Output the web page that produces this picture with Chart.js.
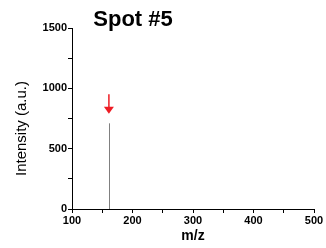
<!DOCTYPE html>
<html>
<head>
<meta charset="utf-8">
<script src="https://cdn.jsdelivr.net/npm/chart.js@4/dist/chart.umd.min.js"></script>
<style>
  html, body { margin: 0; padding: 0; background: #fff; }
  #wrap { width: 326px; height: 248px; position: relative; }
</style>
</head>
<body>
<div id="wrap"><canvas id="c"></canvas></div>
<script>
// --- data ---
const peakMz = [162];
const peakIntensity = [710];
const arrowMz = [161];
const arrowFrom = [950];
const arrowTo = [790];
const xTicks = [100, 200, 300, 400, 500];
const yTicks = [0, 500, 1000, 1500];
const chartTitle = 'Spot #5';
const yTitle = 'Intensity (a.u.)';

const font = 'Liberation Sans, Arial, sans-serif';

const spikePoints = [];
peakMz.forEach((m, i) => {
    spikePoints.push({ x: m, y: 0 }, { x: m, y: peakIntensity[i] }, { x: null, y: null });
});

// red arrow, title and y label, drawn relative to the scales
const extras = {
    id: 'extras',
    afterDatasetsDraw(chart) {
        const { ctx, scales: { x, y }, chartArea } = chart;
        ctx.save();
        arrowMz.forEach((m, i) => {
            const px = x.getPixelForValue(m);
            const y0 = y.getPixelForValue(arrowFrom[i]);
            const y1 = y.getPixelForValue(arrowTo[i]);
            ctx.strokeStyle = '#ee1c24';
            ctx.fillStyle = '#ee1c24';
            ctx.lineWidth = 1.5;
            ctx.beginPath();
            ctx.moveTo(px, y0);
            ctx.lineTo(px, y1 - 6);
            ctx.stroke();
            ctx.beginPath();
            ctx.moveTo(px - 5, y1 - 7);
            ctx.lineTo(px + 5, y1 - 7);
            ctx.lineTo(px, y1);
            ctx.closePath();
            ctx.fill();
        });
        ctx.fillStyle = '#000';
        ctx.font = 'bold 22px ' + font;
        ctx.textAlign = 'center';
        ctx.textBaseline = 'middle';
        ctx.fillText(chartTitle, chartArea.left + 61, 20);

        ctx.translate(22, (chartArea.top + chartArea.bottom) / 2 + 10);
        ctx.rotate(-Math.PI / 2);
        ctx.font = '15px ' + font;
        ctx.fillText(yTitle, 0, 0);
        ctx.restore();
    }
};

new Chart(document.getElementById('c').getContext('2d'), {
    type: 'line',
    data: {
        datasets: [{
            data: spikePoints,
            borderColor: '#808080',
            borderWidth: 1,
            pointRadius: 0,
            spanGaps: false,
            tension: 0
        }]
    },
    options: {
        responsive: true,
        maintainAspectRatio: false,
        animation: false,
        layout: { padding: { top: 28, right: 12, left: 0, bottom: 0 } },
        plugins: { legend: { display: false }, tooltip: { enabled: false } },
        scales: {
            x: {
                type: 'linear',
                min: xTicks[0],
                max: xTicks[xTicks.length - 1],
                afterFit(s) { s.height = 39; },
                border: { display: true, color: '#000', width: 1 },
                grid: { drawOnChartArea: false, drawTicks: true, tickLength: 4, color: '#000' },
                ticks: {
                    stepSize: 50,
                    autoSkip: false,
                    maxRotation: 0,
                    padding: 1,
                    color: '#000',
                    font: { family: font, weight: 'bold', size: 11 },
                    callback: v => xTicks.includes(v) ? String(v) : ''
                },
                title: {
                    display: true,
                    text: 'm/z',
                    color: '#000',
                    padding: { top: 0, bottom: 3 },
                    font: { family: font, weight: 'bold', size: 14 }
                }
            },
            y: {
                type: 'linear',
                min: yTicks[0],
                max: yTicks[yTicks.length - 1],
                afterFit(s) { s.width = 72; },
                border: { display: true, color: '#000', width: 1 },
                grid: { drawOnChartArea: false, drawTicks: true, tickLength: 4, color: '#000' },
                ticks: {
                    stepSize: 250,
                    autoSkip: false,
                    padding: 1,
                    color: '#000',
                    font: { family: font, weight: 'bold', size: 11 },
                    callback: v => yTicks.includes(v) ? String(v) : ''
                }
            }
        }
    },
    plugins: [extras]
});
</script>
</body>
</html>
